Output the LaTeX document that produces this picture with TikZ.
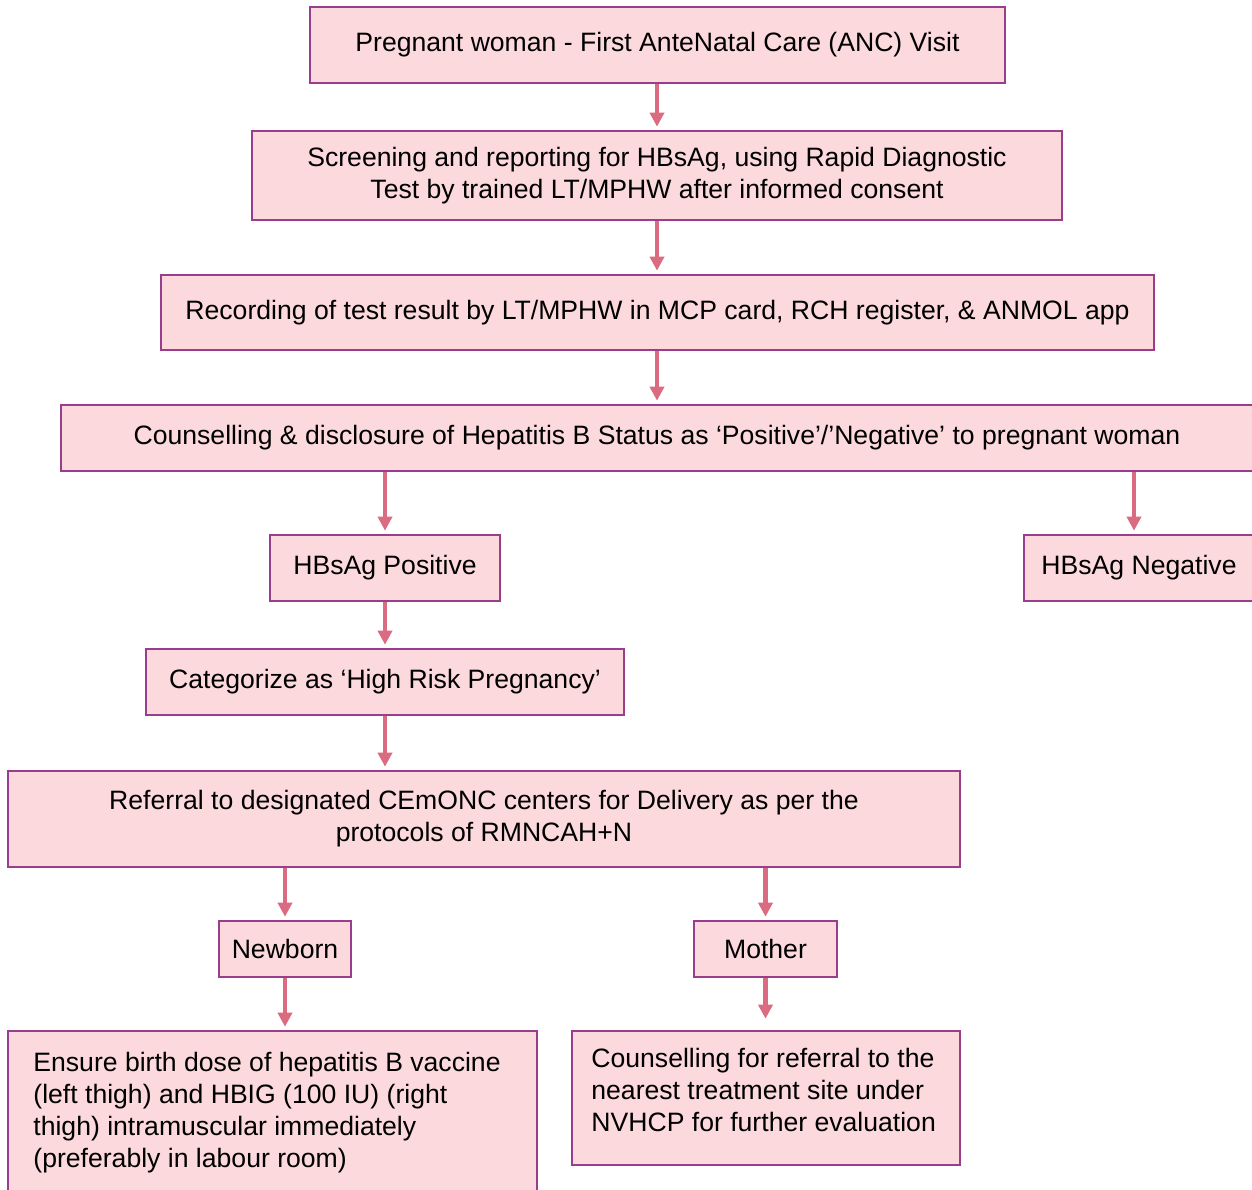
\documentclass[tikz,border=0pt]{standalone}
\usepackage{fontspec}
\setmainfont{Liberation Sans}
\usetikzlibrary{arrows.meta}
\definecolor{boxfill}{HTML}{FBD9DD}
\definecolor{boxdraw}{HTML}{993D8C}
\definecolor{arrowc}{HTML}{DB6B80}
\begin{document}
\begin{tikzpicture}[x=0.5pt,y=-0.5pt,
  box/.style={draw=boxdraw, fill=boxfill, line width=1.3pt, inner sep=0pt,
    font=\fontsize{13.3}{16}\selectfont, align=center},
  txt/.style={inner sep=0pt, font=\fontsize{13.3}{16}\selectfont, align=left, anchor=north west},
  arr/.style={draw=arrowc, line width=2.1pt, -{Triangle[width=7pt,length=7pt]}, shorten >=1.5pt}]
\useasboundingbox (0,0) rectangle (1252,1189);
\clip (0,0) rectangle (1252,1189);

\node[box, minimum width=347.5pt, minimum height=38pt] (b1) at (657.5,45)
  {Pregnant woman - First AnteNatal Care (ANC) Visit};
\node[box, minimum width=405pt, minimum height=44.5pt] (b2) at (657,175.5)
  {Screening and reporting for HBsAg, using Rapid Diagnostic\\Test by trained LT/MPHW after informed consent};
\node[box, minimum width=496.5pt, minimum height=37.5pt] (b3) at (657.5,312.5)
  {Recording of test result by LT/MPHW in MCP card, RCH register, \& ANMOL app};
\node[box, minimum width=596pt, minimum height=33pt] (b4) at (657,438)
  {Counselling \& disclosure of Hepatitis B Status as ‘Positive’/’Negative’ to pregnant woman};
\node[box, minimum width=115pt, minimum height=33pt] (b5) at (385,568)
  {HBsAg Positive};
\node[box, minimum width=115pt, minimum height=33pt] (b6) at (1139,568)
  {HBsAg Negative};
\node[box, minimum width=239pt, minimum height=33pt] (b7) at (385,682)
  {Categorize as ‘High Risk Pregnancy’};
\node[box, minimum width=476pt, minimum height=48pt] (b8) at (484,819)
  {Referral to designated CEmONC centers for Delivery as per the\\protocols of RMNCAH+N};
\node[box, minimum width=66pt, minimum height=28pt] (b9) at (285,949)
  {Newborn};
\node[box, minimum width=71.5pt, minimum height=28pt] (b10) at (765.5,949)
  {Mother};
\node[box, minimum width=264.5pt, minimum height=84.5pt] (b11) at (272.5,1115.5) {};
\node[txt] (t11) at (33,1052)
  {Ensure birth dose of hepatitis B vaccine\\(left thigh) and HBIG (100 IU) (right\\thigh) intramuscular immediately\\(preferably in labour room)};
\node[box, minimum width=194pt, minimum height=67pt] (b12) at (766,1098) {};
\node[txt] (t12) at (591,1048)
  {Counselling for referral to the\\nearest treatment site under\\NVHCP for further evaluation};

\draw[arr] (b1.south -| b2.north) -- (b2.north);
\draw[arr] (b2.south) -- (b2.south |- b3.north);
\draw[arr] (b3.south -| b4.north) -- (b4.north);
\draw[arr] (b4.south -| b5.north) -- (b5.north);
\draw[arr] ([xshift=-2.5pt]b4.south -| b6.north) -- ([xshift=-2.5pt]b6.north);
\draw[arr] (b5.south) -- (b7.north);
\draw[arr] (b7.south) -- (b7.south |- b8.north);
\draw[arr] (b8.south -| b9.north) -- (b9.north);
\draw[arr] (b8.south -| b10.north) -- (b10.north);
\draw[arr] (b9.south) -- (b9.south |- b11.north);
\draw[arr, shorten >=5.5pt] (b10.south) -- (b10.south |- b12.north);
\end{tikzpicture}
\end{document}
